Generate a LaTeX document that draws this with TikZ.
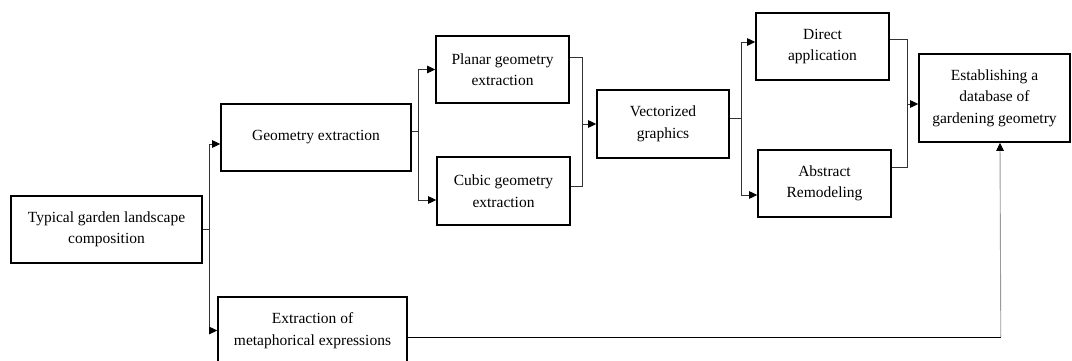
\documentclass[tikz,border=0pt]{standalone}
\usepackage{fontspec}
\setmainfont{Liberation Serif}
\usetikzlibrary{arrows.meta,positioning}

\begin{document}
\begin{tikzpicture}[
    x=1pt, y=-1pt,
    box/.style={draw, line width=1.6pt, rectangle, align=center, inner sep=2pt,
                font=\fontsize{15.5}{21.5}\selectfont},
    line/.style={draw=black!80, line width=0.9pt},
    edge/.style={line, -{Triangle[length=8pt,width=7.5pt,color=black]}},
]
\useasboundingbox (0,0) rectangle (1072,361);
\clip (0,0) rectangle (1072,361);

% Start
\node[box, minimum width=191pt, minimum height=67pt] (typical) at (106.5,229.5) {Typical garden landscape\\composition};

% Two branches
\node[box, minimum width=190pt, minimum height=67pt] (geom) at (316,137.5) {Geometry extraction};
\node[box, minimum width=189pt, minimum height=67pt] (meta) at (312.5,330.5) {Extraction of\\metaphorical expressions};

% Geometry kinds
\node[box, minimum width=133pt, minimum height=67pt] (planar) at (502.5,69.5) {Planar geometry\\extraction};
\node[box, minimum width=133pt, minimum height=68pt] (cubic) at (503.5,191) {Cubic geometry\\extraction};

% Vectorized
\node[box, minimum width=132pt, minimum height=68pt] (vector) at (663,124) {Vectorized\\graphics};

% Use
\node[box, minimum width=133pt, minimum height=67pt] (direct) at (822.5,46.5) {Direct\\application};
\node[box, minimum width=133pt, minimum height=67pt] (abstract) at (824.5,183.5) {Abstract\\Remodeling};

% Result
\node[box, minimum width=151pt, minimum height=88pt] (database) at (994.5,98) {Establishing a\\database of\\gardening geometry};

% Connectors
\draw[line] (typical.east) -- ++(7,0) coordinate (s1);
\draw[edge] (s1) |- ([yshift=-6.5pt]geom.west);
\draw[edge] (s1) |- (meta.west);

\draw[line] ([yshift=6.5pt]geom.east) -- ++(7,0) coordinate (s2);
\draw[edge] (s2) |- (planar.west);
\draw[edge] (s2) |- ([yshift=-9pt]cubic.west);

\draw[line] ([yshift=12.5pt]planar.east) -- ++(13,0) coordinate (j1) |- ([yshift=5pt]cubic.east);
\draw[edge] (j1 |- vector.west) -- (vector.west);

\draw[line] ([yshift=6pt]vector.east) -- ++(12,0) coordinate (s3);
\draw[edge] (s3) |- ([yshift=4.5pt]direct.west);
\draw[edge] (s3) |- ([yshift=-11.5pt]abstract.west);

\coordinate (dbin) at ([yshift=-6pt]database.west);
\draw[line] ([yshift=7.5pt]direct.east) -- ++(18,0) coordinate (j2) |- ([yshift=16.5pt]abstract.east);
\draw[edge] (j2 |- dbin) -- (dbin);

\draw[line, draw=black] ([yshift=-6.5pt]meta.east) -- ++(593,0) coordinate (c1);
\draw[edge, draw=black!40] (c1) -- ([xshift=5.5pt]database.south);

\end{tikzpicture}
\end{document}
